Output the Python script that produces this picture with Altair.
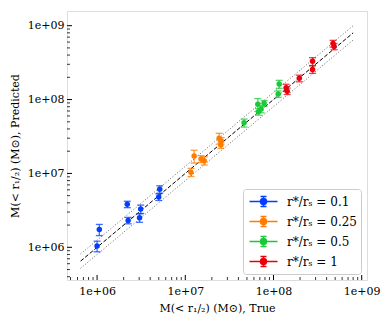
import altair as alt
import pandas as pd

# ---- data ----
labels = ["r*/rₛ = 0.1", "r*/rₛ = 0.25", "r*/rₛ = 0.5", "r*/rₛ = 1"]
colors = ["#023eff", "#ff7c00", "#1ac938", "#e8000b"]

blue_true = [1.06e6, 1.0e6, 2.2e6, 2.25e6, 3.12e6, 3.03e6, 5.13e6, 5.0e6]
blue_pred = [1.74e6, 1.04e6, 3.82e6, 2.31e6, 3.3e6, 2.51e6, 6.1e6, 4.8e6]
blue_err = [0.3e6, 0.17e6, 0.38e6, 0.23e6, 0.43e6, 0.33e6, 0.7e6, 0.5e6]

orange_true = [1.26e7, 1.16e7, 1.51e7, 1.64e7, 2.42e7, 2.55e7, 2.53e7]
orange_pred = [1.72e7, 1.04e7, 1.57e7, 1.49e7, 2.99e7, 2.77e7, 2.42e7]
orange_err = [3.4e6, 1.3e6, 1.7e6, 1.9e6, 5.0e6, 2.8e6, 2.4e6]

green_true = [4.64e7, 6.64e7, 6.75e7, 7.24e7, 7.82e7, 1.16e8, 1.13e8]
green_pred = [4.84e7, 8.61e7, 6.84e7, 7.43e7, 8.9e7, 1.62e8, 1.19e8]
green_err = [6e6, 1.7e7, 7e6, 8e6, 8e6, 2.0e7, 1.2e7]

red_true = [1.39e8, 1.43e8, 1.96e8, 2.77e8, 2.77e8, 4.73e8, 4.86e8]
red_pred = [1.45e8, 1.30e8, 1.94e8, 3.29e8, 2.56e8, 5.73e8, 5.22e8]
red_err = [1.6e7, 1.3e7, 2.0e7, 4.0e7, 3.0e7, 6.0e7, 5.0e7]

line_x = [6.5e5, 8.0e8]
band_factors = [1.25, 0.8]

major_ticks = [1e6, 1e7, 1e8, 1e9]
x_minor = [5e5, 6e5, 7e5, 8e5, 9e5] + [m * 10 ** k for k in (6, 7, 8) for m in range(2, 10)]
y_minor = [4e5, 5e5, 6e5, 7e5, 8e5, 9e5] + [m * 10 ** k for k in (6, 7, 8) for m in range(2, 10)]

x_domain = [4.56e5, 1.148e9]
y_domain = [3.61e5, 1.58e9]

# ---- tables ----
rows = []
for lab, xs, ys, es in zip(
    labels,
    [blue_true, orange_true, green_true, red_true],
    [blue_pred, orange_pred, green_pred, red_pred],
    [blue_err, orange_err, green_err, red_err],
):
    for xv, yv, ev in zip(xs, ys, es):
        rows.append({"label": lab, "x": xv, "y": yv, "lo": yv - ev, "hi": yv + ev})
df = pd.DataFrame(rows)

df_line = pd.DataFrame({"x": line_x, "y": line_x})
df_up = pd.DataFrame({"x": line_x, "y": [v * band_factors[0] for v in line_x]})
df_dn = pd.DataFrame({"x": line_x, "y": [v * band_factors[1] for v in line_x]})

FONT = "DejaVu Serif"
xscale = alt.Scale(type="log", domain=x_domain, nice=False)
yscale = alt.Scale(type="log", domain=y_domain, nice=False)
lab_expr = "'1e+0' + round(log(datum.value)/LN10)"

XTITLE = "M(< r₁/₂) (M⊙), True"
YTITLE = "M(< r₁/₂) (M⊙), Predicted"
xaxis = alt.Axis(
    values=major_ticks, labelExpr=lab_expr, ticks=False, tickSize=0, domain=False,
    grid=False, labelFont=FONT, labelFontSize=11, labelColor="black", labelPadding=5,
    titleFont=FONT, titleFontSize=11, titleFontWeight="normal", titleColor="black", titlePadding=6,
)
yaxis = alt.Axis(
    values=major_ticks, labelExpr=lab_expr, ticks=False, tickSize=0, domain=False,
    grid=False, labelFont=FONT, labelFontSize=11, labelColor="black", labelPadding=3,
    titleFont=FONT, titleFontSize=11, titleFontWeight="normal", titleColor="black", titlePadding=7,
)

X = alt.X("x:Q", scale=xscale, axis=xaxis, title=XTITLE)
Y = alt.Y("y:Q", scale=yscale, axis=yaxis, title=YTITLE)
Ylo = alt.Y("lo:Q", scale=yscale, axis=yaxis, title=YTITLE)
Yhi = alt.Y("hi:Q", scale=yscale, axis=yaxis, title=YTITLE)

# errorbar glyph: horizontal line, vertical bar with caps, dot made of rings
sym = ("M-1.87,0H1.87M0,-0.67V0.67M-0.4,-0.67H0.4M-0.4,0.67H0.4"
       "M-0.4,0A0.4,0.4 0 1,0 0.4,0A0.4,0.4 0 1,0 -0.4,0"
       "M-0.26,0A0.26,0.26 0 1,0 0.26,0A0.26,0.26 0 1,0 -0.26,0"
       "M-0.12,0A0.12,0.12 0 1,0 0.12,0A0.12,0.12 0 1,0 -0.12,0")
legend = alt.Legend(
    title=None, orient="bottom-right", offset=6, symbolType=sym, symbolSize=225,
    symbolStrokeWidth=1.5, labelFont=FONT, labelFontSize=12, labelColor="black",
    fillColor="white", strokeColor="#cccccc", cornerRadius=3, padding=4,
    rowPadding=3, symbolOffset=8, labelOffset=15, symbolOpacity=1,
)
cs = alt.Scale(domain=labels, range=colors)
C = alt.Color("label:N", scale=cs, legend=legend, sort=labels)

dashed = alt.Chart(df_line).mark_line(color="black", strokeWidth=1, strokeDash=[4, 2]).encode(x=X, y=Y)
up = alt.Chart(df_up).mark_line(color="#555555", strokeWidth=0.9, strokeDash=[1, 2]).encode(x=X, y=Y)
dn = alt.Chart(df_dn).mark_line(color="#555555", strokeWidth=0.9, strokeDash=[1, 2]).encode(x=X, y=Y)

ebar = alt.Chart(df).mark_rule(strokeWidth=1.3, opacity=0.75).encode(x=X, y=Ylo, y2="hi:Q", color=C)
cap_lo = alt.Chart(df).mark_tick(orient="horizontal", size=7, thickness=1.3, opacity=0.75).encode(x=X, y=Ylo, color=C)
cap_hi = alt.Chart(df).mark_tick(orient="horizontal", size=7, thickness=1.3, opacity=0.75).encode(x=X, y=Yhi, color=C)
pts = alt.Chart(df).mark_point(filled=True, size=30, opacity=1).encode(x=X, y=Y, color=C)

# ticks drawn inward, at the tick values, through the scales
df_xmaj = pd.DataFrame({"x": major_ticks})
df_xmin = pd.DataFrame({"x": x_minor})
df_ymaj = pd.DataFrame({"y": major_ticks})
df_ymin = pd.DataFrame({"y": y_minor})
H = 269
xt_maj = alt.Chart(df_xmaj).mark_rule(color="black", strokeWidth=1).encode(x=X, y=alt.value(H), y2=alt.value(H - 5))
xt_min = alt.Chart(df_xmin).mark_rule(color="black", strokeWidth=0.8).encode(x=X, y=alt.value(H), y2=alt.value(H - 3))
yt_maj = alt.Chart(df_ymaj).mark_rule(color="black", strokeWidth=1).encode(y=Y, x=alt.value(0), x2=alt.value(5))
yt_min = alt.Chart(df_ymin).mark_rule(color="black", strokeWidth=0.8).encode(y=Y, x=alt.value(0), x2=alt.value(3))

chart = alt.layer(
    ebar, up, dn, dashed, cap_lo, cap_hi, pts, xt_maj, xt_min, yt_maj, yt_min
).properties(
    width=300, height=H,
    autosize=alt.AutoSizeParams(type="none"),
    padding={"left": 59, "top": 3, "right": 15, "bottom": 37},
).configure_view(
    stroke="black", strokeWidth=1.2
).configure(background="white")

chart.save("out.html", embed_options={"renderer": "svg", "actions": False})
